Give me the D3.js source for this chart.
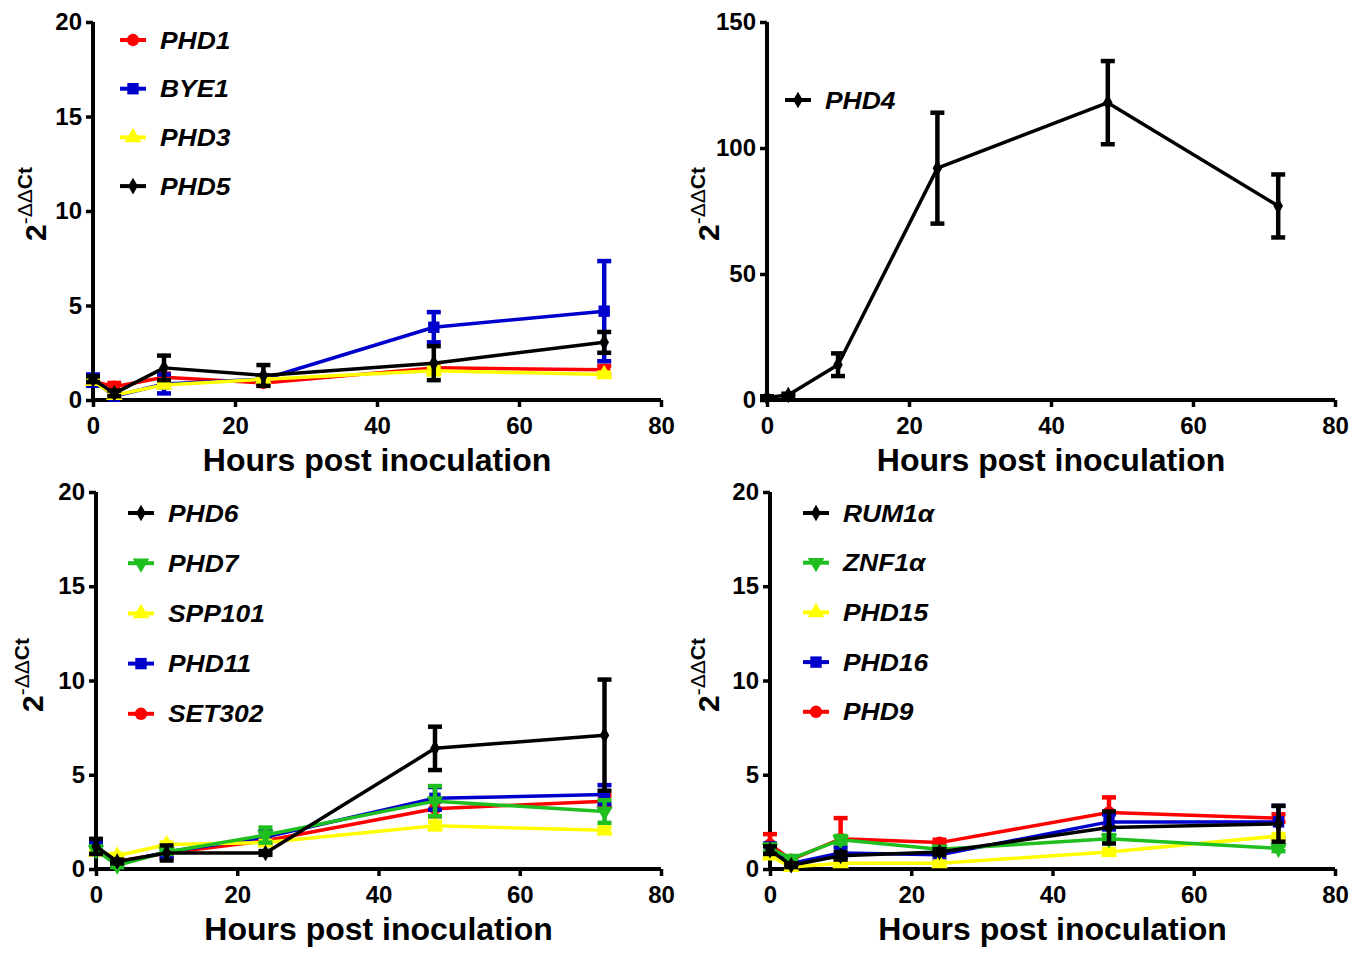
<!DOCTYPE html>
<html><head><meta charset="utf-8">
<script src="https://cdn.jsdelivr.net/npm/d3@7"></script>
<style>body{margin:0;background:#fff}svg{display:block}</style>
</head><body>
<svg id="c" width="1363" height="955"></svg>
<script>
const hours = [0, 3, 10, 24, 48, 72];
const xTicks = [0, 20, 40, 60, 80];
const xTitle = "Hours post inoculation";

// Panel A
const phd1 = [1.0, 0.7, 1.2, 0.9, 1.7, 1.6];
const phd1Err = [0.2, 0.2, 0.2, 0.15, 0.2, 0.2];
const bye1 = [1.05, 0.2, 0.85, 1.1, 3.85, 4.7];
const bye1Err = [0.3, 0.1, 0.5, 0.2, 0.8, 2.65];
const phd3 = [1.0, 0.25, 0.8, 1.1, 1.55, 1.35];
const phd3Err = [0.1, 0.1, 0.1, 0.1, 0.2, 0.1];
const phd5 = [1.1, 0.35, 1.7, 1.3, 1.95, 3.05];
const phd5Err = [0.15, 0.15, 0.65, 0.55, 0.9, 0.55];
const yTicksA = [0, 5, 10, 15, 20];

// Panel B
const phd4 = [1, 2, 14, 92, 118, 77];
const phd4Err = [0.5, 0.5, 4.5, 22, 16.5, 12.5];
const yTicksB = [0, 50, 100, 150];

// Panel C
const phd6 = [1.2, 0.4, 0.85, 0.85, 6.4, 7.1];
const phd6Err = [0.4, 0.1, 0.4, 0.1, 1.15, 2.95];
const phd7 = [1.0, 0.2, 0.9, 1.8, 3.6, 3.05];
const phd7Err = [0.2, 0.1, 0.1, 0.4, 0.8, 0.6];
const spp101 = [0.9, 0.7, 1.3, 1.4, 2.3, 2.05];
const spp101Err = [0.1, 0.1, 0.1, 0.1, 0.2, 0.15];
const phd11 = [1.1, 0.3, 0.9, 1.7, 3.75, 3.95];
const phd11Err = [0.3, 0.1, 0.3, 0.3, 0.6, 0.5];
const set302 = [1.0, 0.4, 0.85, 1.5, 3.2, 3.6];
const set302Err = [0.2, 0.1, 0.2, 0.2, 0.4, 0.3];
const yTicksC = [0, 5, 10, 15, 20];

// Panel D
const rum1a = [1.0, 0.2, 0.7, 0.9, 2.2, 2.4];
const rum1aErr = [0.2, 0.1, 0.2, 0.15, 0.85, 0.95];
const znf1a = [1.1, 0.55, 1.55, 1.05, 1.6, 1.1];
const znf1aErr = [0.2, 0.1, 0.2, 0.1, 0.2, 0.15];
const phd15 = [0.7, 0.1, 0.3, 0.3, 0.9, 1.75];
const phd15Err = [0.1, 0.05, 0.1, 0.1, 0.15, 0.1];
const phd16 = [1.05, 0.3, 0.85, 0.75, 2.5, 2.5];
const phd16Err = [0.3, 0.1, 0.3, 0.25, 0.4, 0.85];
const phd9 = [1.3, 0.5, 1.6, 1.4, 3.0, 2.7];
const phd9Err = [0.55, 0.1, 1.1, 0.15, 0.8, 0.2];
const yTicksD = [0, 5, 10, 15, 20];

const RED = "#ff0000", BLUE = "#0000cc", YEL = "#ffff00", BLK = "#000000", GRN = "#1fbf1f";
const FONT = "'Liberation Sans', Arial, sans-serif";

const panels = [
  { x0: 93, x1: 661, y0: 400, y1: 22, ymax: 20, yTicks: yTicksA, ytx: 46, yty: 204,
    legX: 120, legY: 40, legStep: 48.7, laterOnTop: true,
    series: [
      { name: "PHD1", v: phd1, e: phd1Err, c: RED, m: "circle" },
      { name: "BYE1", v: bye1, e: bye1Err, c: BLUE, m: "square" },
      { name: "PHD3", v: phd3, e: phd3Err, c: YEL, m: "tri" },
      { name: "PHD5", v: phd5, e: phd5Err, c: BLK, m: "diamond" } ] },
  { x0: 767, x1: 1335, y0: 400, y1: 22, ymax: 150, yTicks: yTicksB, ytx: 719, yty: 204,
    legX: 785, legY: 100, legStep: 48, laterOnTop: true,
    series: [ { name: "PHD4", v: phd4, e: phd4Err, c: BLK, m: "diamond" } ] },
  { x0: 96, x1: 661, y0: 869, y1: 492, ymax: 20, yTicks: yTicksC, ytx: 43, yty: 675,
    legX: 128, legY: 513, legStep: 50.2, laterOnTop: false,
    series: [
      { name: "PHD6", v: phd6, e: phd6Err, c: BLK, m: "diamond" },
      { name: "PHD7", v: phd7, e: phd7Err, c: GRN, m: "tridown" },
      { name: "SPP101", v: spp101, e: spp101Err, c: YEL, m: "tri" },
      { name: "PHD11", v: phd11, e: phd11Err, c: BLUE, m: "square" },
      { name: "SET302", v: set302, e: set302Err, c: RED, m: "circle" } ] },
  { x0: 770, x1: 1335, y0: 869, y1: 492, ymax: 20, yTicks: yTicksD, ytx: 719, yty: 675,
    legX: 803, legY: 513, legStep: 49.7, laterOnTop: false,
    series: [
      { name: "RUM1\u03B1", v: rum1a, e: rum1aErr, c: BLK, m: "diamond" },
      { name: "ZNF1\u03B1", v: znf1a, e: znf1aErr, c: GRN, m: "tridown" },
      { name: "PHD15", v: phd15, e: phd15Err, c: YEL, m: "tri" },
      { name: "PHD16", v: phd16, e: phd16Err, c: BLUE, m: "square" },
      { name: "PHD9", v: phd9, e: phd9Err, c: RED, m: "circle" } ] }
];

const svg = d3.select("#c");

function markerPath(m, s) {
  if (m === "circle") return d3.symbol(d3.symbolCircle, 120 * s)();
  if (m === "square") return d3.symbol(d3.symbolSquare, 130 * s)();
  if (m === "tri") return d3.symbol(d3.symbolTriangle, 120 * s)();
  if (m === "tridown") return d3.symbol(d3.symbolTriangle, 120 * s)();
  if (m === "diamond") return d3.symbol(d3.symbolDiamond, 80 * s)();
}
function markerRot(m) { return m === "tridown" ? " rotate(180)" : ""; }

panels.forEach(p => {
  const g = svg.append("g");
  const x = d3.scaleLinear().domain([0, 80]).range([p.x0, p.x1]);
  const y = d3.scaleLinear().domain([0, p.ymax]).range([p.y0, p.y1]);

  const xa = g.append("g").attr("transform", `translate(0,${p.y0})`)
    .call(d3.axisBottom(x).tickValues(xTicks).tickSize(7).tickSizeOuter(0).tickPadding(10).tickFormat(d3.format("d")));
  const ya = g.append("g").attr("transform", `translate(${p.x0},0)`)
    .call(d3.axisLeft(y).tickValues(p.yTicks).tickSize(7).tickSizeOuter(0).tickPadding(4).tickFormat(d3.format("d")));
  [xa, ya].forEach(a => {
    a.select(".domain").attr("stroke", "#000").attr("stroke-width", 4);
    a.selectAll(".tick line").attr("stroke", "#000").attr("stroke-width", 3.5);
    a.selectAll(".tick text").attr("fill", "#000").style("font-family", FONT)
      .style("font-weight", "bold").style("font-size", "24px");
  });
  xa.select(".domain").attr("d", `M${p.x0 - 2},0H${p.x1}`);
  ya.select(".domain").attr("d", `M0,${p.y0 + 2}V${p.y1}`);

  // x title
  g.append("text")
    .attr("x", (p.x0 + p.x1) / 2).attr("y", p.y0 + 71)
    .attr("text-anchor", "middle").style("font-family", FONT).style("font-weight", "bold")
    .style("font-size", "32px").text(xTitle);

  // y title
  const yt = g.append("text").attr("transform", `translate(${p.ytx},${p.yty}) rotate(-90)`)
    .attr("text-anchor", "middle").style("font-family", FONT).style("font-weight", "bold");
  yt.append("tspan").style("font-size", "30px").text("2");
  yt.append("tspan").style("font-size", "21px").attr("dy", -14).style("font-weight", "normal").text("-\u0394\u0394");
  yt.append("tspan").style("font-size", "21px").text("Ct");

  const line = d3.line().x((d, i) => x(hours[i])).y(d => y(d));
  const order = p.laterOnTop ? p.series.slice() : p.series.slice().reverse();

  order.forEach(s => {
    const sg = g.append("g");
    s.v.forEach((v, i) => {
      const cx = x(hours[i]);
      const top = y(v + s.e[i]), bot = y(Math.max(0, v - s.e[i]));
      sg.append("line").attr("x1", cx).attr("x2", cx).attr("y1", top).attr("y2", bot)
        .attr("stroke", s.c).attr("stroke-width", 4.5);
      [top, bot].forEach(yy => sg.append("line").attr("x1", cx - 7).attr("x2", cx + 7)
        .attr("y1", yy).attr("y2", yy).attr("stroke", s.c).attr("stroke-width", 4.5));
    });
    sg.append("path").attr("d", line(s.v)).attr("fill", "none").attr("stroke", s.c)
      .attr("stroke-width", 3.5).attr("stroke-linejoin", "round");
    sg.selectAll("path.mk").data(s.v).join("path").attr("class", "mk")
      .attr("d", markerPath(s.m, 1))
      .attr("transform", (d, i) => `translate(${x(hours[i])},${y(d)})` + markerRot(s.m))
      .attr("fill", s.c);
  });

  p.series.forEach((s, k) => {
    const ly = p.legY + k * p.legStep;
    const lg = g.append("g");
    lg.append("line").attr("x1", p.legX).attr("x2", p.legX + 26).attr("y1", ly).attr("y2", ly)
      .attr("stroke", s.c).attr("stroke-width", 4);
    lg.append("path").attr("d", markerPath(s.m, 1))
      .attr("transform", `translate(${p.legX + 13},${ly})` + markerRot(s.m)).attr("fill", s.c);
    lg.append("text").attr("transform", `translate(${p.legX + 40},${ly + 8.5}) scale(1.1,1)`)
      .style("font-family", FONT).style("font-weight", "bold").style("font-style", "italic")
      .style("font-size", "24px").text(s.name);
  });
});
</script>
</body></html>
